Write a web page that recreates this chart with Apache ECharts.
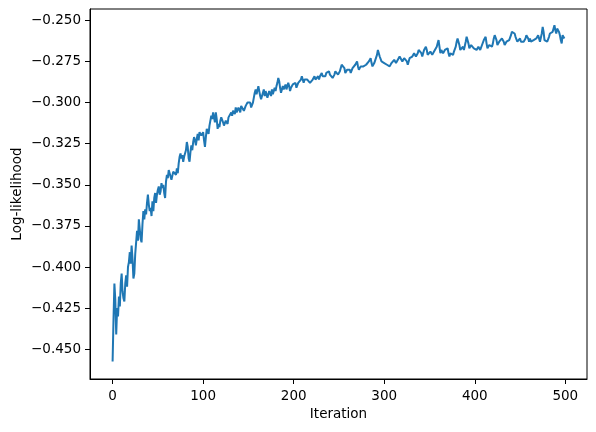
<!DOCTYPE html>
<html>
<head>
<meta charset="utf-8">
<script src="https://cdn.jsdelivr.net/npm/echarts@6/dist/echarts.min.js"></script>
<style>
html,body{margin:0;padding:0;background:#fff;}
#chart{width:596px;height:432px;}
</style>
</head>
<body>
<div id="chart"></div>
<script>
const xTicks = [0, 100, 200, 300, 400, 500];
const yTicks = [-0.450, -0.425, -0.400, -0.375, -0.350, -0.325, -0.300, -0.275, -0.250];
const xLabel = 'Iteration';
const yLabel = 'Log-likelihood';
const logLik = [
-0.4575,-0.432,-0.410,-0.420,-0.441,-0.425,-0.430,-0.418,-0.424,-0.410,
-0.404,-0.415,-0.419,-0.421,-0.410,-0.405,-0.412,-0.400,-0.397,-0.391,
-0.398,-0.387,-0.395,-0.407,-0.404,-0.392,-0.385,-0.378,-0.384,-0.371,
-0.377,-0.383,-0.385,-0.374,-0.366,-0.371,-0.365,-0.368,-0.361,-0.356,
-0.362,-0.366,-0.364,-0.369,-0.360,-0.366,-0.358,-0.355,-0.361,-0.356,
-0.353,-0.351,-0.356,-0.354,-0.349,-0.352,-0.350,-0.355,-0.358,-0.348,
-0.344,-0.346,-0.341,-0.340,-0.345,-0.347,-0.346,-0.342,-0.343,-0.341,
-0.344,-0.340,-0.343,-0.337,-0.333,-0.331,-0.334,-0.332,-0.336,-0.333,
-0.333,-0.329,-0.324,-0.327,-0.334,-0.336,-0.330,-0.326,-0.329,-0.324,
-0.321,-0.323,-0.326,-0.322,-0.319,-0.323,-0.318,-0.317,-0.320,-0.319,
-0.318,-0.323,-0.327,-0.321,-0.316,-0.315,-0.319,-0.314,-0.311,-0.308,
-0.310,-0.306,-0.309,-0.312,-0.306,-0.310,-0.316,-0.313,-0.315,-0.311,
-0.309,-0.310,-0.312,-0.314,-0.315,-0.311,-0.310,-0.313,-0.309,-0.310,
-0.309,-0.306,-0.308,-0.305,-0.304,-0.307,-0.303,-0.306,-0.307,-0.303,
-0.304,-0.306,-0.302,-0.303,-0.301,-0.305,-0.304,-0.302,-0.303,-0.300,
-0.301,-0.299,-0.300,-0.303,-0.304,-0.300,-0.297,-0.294,-0.292,-0.295,
-0.294,-0.290,-0.293,-0.296,-0.298,-0.297,-0.294,-0.292,-0.296,-0.293,
-0.294,-0.297,-0.295,-0.293,-0.294,-0.296,-0.292,-0.295,-0.293,-0.291,
-0.293,-0.290,-0.288,-0.285,-0.287,-0.291,-0.294,-0.293,-0.290,-0.292,
-0.291,-0.289,-0.292,-0.290,-0.288,-0.290,-0.293,-0.291,-0.290,-0.289,
-0.288,-0.290,-0.288,-0.291,-0.290,-0.288,-0.287,-0.289,-0.286,-0.284,
-0.286,-0.288,-0.286,-0.285,-0.287,-0.286,-0.285,-0.287,-0.288,-0.287,
-0.288,-0.286,-0.285,-0.284,-0.286,-0.287,-0.285,-0.284,-0.286,-0.284,
-0.283,-0.282,-0.284,-0.285,-0.283,-0.284,-0.282,-0.283,-0.282,-0.281,
-0.283,-0.282,-0.284,-0.285,-0.286,-0.283,-0.281,-0.280,-0.282,-0.283,
-0.282,-0.281,-0.279,-0.277,-0.278,-0.276,-0.279,-0.282,-0.281,-0.280,
-0.279,-0.281,-0.280,-0.282,-0.281,-0.279,-0.280,-0.278,-0.277,-0.276,
-0.275,-0.278,-0.280,-0.279,-0.278,-0.279,-0.277,-0.278,-0.279,-0.278,
-0.277,-0.276,-0.278,-0.275,-0.274,-0.273,-0.276,-0.278,-0.277,-0.276,
-0.277,-0.275,-0.271,-0.268,-0.269,-0.272,-0.273,-0.275,-0.276,-0.275,
-0.276,-0.275,-0.276,-0.277,-0.276,-0.277,-0.278,-0.277,-0.276,-0.277,
-0.276,-0.274,-0.275,-0.276,-0.275,-0.274,-0.273,-0.272,-0.271,-0.273,
-0.275,-0.274,-0.273,-0.272,-0.273,-0.275,-0.277,-0.275,-0.273,-0.272,
-0.273,-0.272,-0.271,-0.270,-0.271,-0.272,-0.271,-0.270,-0.268,-0.269,
-0.267,-0.270,-0.272,-0.270,-0.268,-0.267,-0.266,-0.268,-0.271,-0.270,
-0.271,-0.269,-0.270,-0.271,-0.270,-0.269,-0.270,-0.268,-0.266,-0.264,
-0.262,-0.266,-0.270,-0.268,-0.269,-0.270,-0.269,-0.268,-0.267,-0.268,
-0.267,-0.270,-0.272,-0.270,-0.269,-0.270,-0.271,-0.269,-0.268,-0.266,
-0.263,-0.261,-0.260,-0.265,-0.268,-0.267,-0.268,-0.266,-0.268,-0.267,
-0.263,-0.260,-0.259,-0.264,-0.267,-0.266,-0.265,-0.265,-0.266,-0.267,
-0.268,-0.266,-0.268,-0.267,-0.266,-0.267,-0.268,-0.267,-0.265,-0.264,
-0.262,-0.261,-0.260,-0.264,-0.267,-0.266,-0.265,-0.264,-0.265,-0.266,
-0.264,-0.261,-0.259,-0.258,-0.262,-0.265,-0.264,-0.263,-0.264,-0.263,
-0.261,-0.260,-0.263,-0.265,-0.264,-0.263,-0.264,-0.263,-0.262,-0.261,
-0.259,-0.257,-0.256,-0.256,-0.258,-0.260,-0.261,-0.263,-0.264,-0.262,
-0.261,-0.263,-0.264,-0.262,-0.263,-0.262,-0.261,-0.259,-0.259,-0.261,
-0.263,-0.261,-0.263,-0.264,-0.263,-0.262,-0.263,-0.262,-0.261,-0.260,
-0.259,-0.260,-0.263,-0.262,-0.258,-0.254,-0.257,-0.262,-0.263,-0.262,
-0.263,-0.262,-0.260,-0.258,-0.257,-0.259,-0.257,-0.255,-0.253,-0.256,
-0.258,-0.255,-0.254,-0.257,-0.259,-0.262,-0.264,-0.259,-0.258,-0.261
];
const iterations = logLik.map((_, i) => i);

const chart = echarts.init(document.getElementById('chart'), null, {renderer: 'canvas'});
const font = 'DejaVu Sans';
const fmtY = v => (v < 0 ? '\u2212' : '') + Math.abs(v).toFixed(3);
chart.setOption({
  animation: false,
  backgroundColor: '#fff',
  grid: {left: 90, right: 9, top: 9, bottom: 53, show: true, borderColor: '#000', borderWidth: 1, backgroundColor: 'transparent'},
  xAxis: {
    type: 'value', min: -24.95, max: 523.95,
    name: xLabel, nameLocation: 'middle', nameGap: 28, nameMoveOverlap: false,
    nameTextStyle: {fontFamily: font, fontSize: 13.5, color: '#000'},
    axisLine: {show: true, onZero: false, lineStyle: {color: '#000', width: 1}},
    axisTick: {show: true, inside: false, length: 5, lineStyle: {color: '#000', width: 1}, customValues: xTicks},
    axisLabel: {show: true, margin: 10, fontFamily: font, fontSize: 13.5, color: '#000', customValues: xTicks, formatter: v => String(v)},
    splitLine: {show: false}
  },
  yAxis: {
    type: 'value', min: -0.4681, max: -0.2431,
    name: yLabel, nameLocation: 'middle', nameGap: 66, nameMoveOverlap: false,
    nameTextStyle: {fontFamily: font, fontSize: 13.5, color: '#000'},
    axisLine: {show: true, onZero: false, lineStyle: {color: '#000', width: 1}},
    axisTick: {show: true, inside: false, length: 5, lineStyle: {color: '#000', width: 1}, customValues: yTicks},
    axisLabel: {show: true, margin: 9, fontFamily: font, fontSize: 13.5, color: '#000', customValues: yTicks, formatter: fmtY},
    splitLine: {show: false}
  },
  series: [{
    type: 'line',
    data: iterations.map((x, i) => [x, logLik[i]]),
    showSymbol: false,
    symbol: 'none',
    clip: false,
    lineStyle: {color: '#1f77b4', width: 2},
    itemStyle: {color: '#1f77b4'}
  }]
});
</script>
</body>
</html>
